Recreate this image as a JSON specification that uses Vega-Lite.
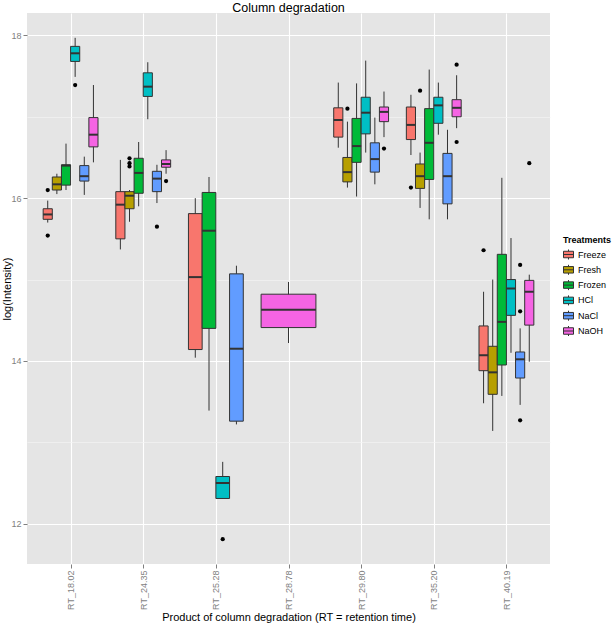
{
  "$schema": "https://vega.github.io/schema/vega-lite/v6.json",
  "autosize": {"type": "none"},
  "padding": {"left": 27, "top": 13, "right": 65, "bottom": 59},
  "width": 523,
  "height": 551,
  "background": "white",
  "config": {
    "font": "Liberation Sans",
    "view": {"fill": "#E5E5E5", "stroke": null}
  },
  "title": {"text": "Column degradation", "fontSize": 12.5, "fontWeight": "normal", "color": "black", "anchor": "middle", "offset": -1, "font": "Liberation Sans"},
  "data": {"values": [
    {"rt": "RT_18.02", "t": "Freeze", "lo": 15.70, "q1": 15.74, "med": 15.80, "q3": 15.87, "hi": 15.97, "out": [15.54, 16.10]},
    {"rt": "RT_18.02", "t": "Fresh", "lo": 16.05, "q1": 16.10, "med": 16.17, "q3": 16.26, "hi": 16.30, "out": []},
    {"rt": "RT_18.02", "t": "Frozen", "lo": 16.10, "q1": 16.16, "med": 16.40, "q3": 16.41, "hi": 16.67, "out": []},
    {"rt": "RT_18.02", "t": "HCl", "lo": 17.49, "q1": 17.68, "med": 17.78, "q3": 17.865, "hi": 17.97, "out": [17.39]},
    {"rt": "RT_18.02", "t": "NaCl", "lo": 16.04, "q1": 16.21, "med": 16.27, "q3": 16.40, "hi": 16.51, "out": []},
    {"rt": "RT_18.02", "t": "NaOH", "lo": 16.44, "q1": 16.63, "med": 16.78, "q3": 16.99, "hi": 17.39, "out": []},
    {"rt": "RT_24.35", "t": "Freeze", "lo": 15.37, "q1": 15.50, "med": 15.92, "q3": 16.08, "hi": 16.47, "out": []},
    {"rt": "RT_24.35", "t": "Fresh", "lo": 15.71, "q1": 15.87, "med": 16.03, "q3": 16.08, "hi": 16.10, "out": [16.49, 16.43, 16.39]},
    {"rt": "RT_24.35", "t": "Frozen", "lo": 15.90, "q1": 16.06, "med": 16.31, "q3": 16.49, "hi": 16.69, "out": []},
    {"rt": "RT_24.35", "t": "HCl", "lo": 16.97, "q1": 17.25, "med": 17.37, "q3": 17.54, "hi": 17.67, "out": []},
    {"rt": "RT_24.35", "t": "NaCl", "lo": 15.94, "q1": 16.08, "med": 16.24, "q3": 16.33, "hi": 16.41, "out": [15.65]},
    {"rt": "RT_24.35", "t": "NaOH", "lo": 16.30, "q1": 16.38, "med": 16.42, "q3": 16.47, "hi": 16.59, "out": [16.21]},
    {"rt": "RT_25.28", "t": "Freeze", "lo": 14.04, "q1": 14.14, "med": 15.03, "q3": 15.81, "hi": 16.00, "out": []},
    {"rt": "RT_25.28", "t": "Frozen", "lo": 13.39, "q1": 14.40, "med": 15.60, "q3": 16.07, "hi": 16.26, "out": []},
    {"rt": "RT_25.28", "t": "HCl", "lo": 12.31, "q1": 12.31, "med": 12.50, "q3": 12.58, "hi": 12.76, "out": [11.81]},
    {"rt": "RT_25.28", "t": "NaCl", "lo": 13.22, "q1": 13.26, "med": 14.15, "q3": 15.07, "hi": 15.17, "out": []},
    {"rt": "RT_28.78", "t": "NaOH", "lo": 14.22, "q1": 14.41, "med": 14.63, "q3": 14.82, "hi": 14.97, "out": []},
    {"rt": "RT_29.80", "t": "Freeze", "lo": 16.62, "q1": 16.75, "med": 16.96, "q3": 17.11, "hi": 17.42, "out": []},
    {"rt": "RT_29.80", "t": "Fresh", "lo": 16.13, "q1": 16.20, "med": 16.32, "q3": 16.50, "hi": 16.94, "out": [17.10]},
    {"rt": "RT_29.80", "t": "Frozen", "lo": 16.02, "q1": 16.44, "med": 16.64, "q3": 16.98, "hi": 17.41, "out": []},
    {"rt": "RT_29.80", "t": "HCl", "lo": 16.56, "q1": 16.79, "med": 17.05, "q3": 17.24, "hi": 17.69, "out": []},
    {"rt": "RT_29.80", "t": "NaCl", "lo": 16.17, "q1": 16.32, "med": 16.48, "q3": 16.68, "hi": 16.99, "out": []},
    {"rt": "RT_29.80", "t": "NaOH", "lo": 16.75, "q1": 16.94, "med": 17.06, "q3": 17.12, "hi": 17.31, "out": [16.61]},
    {"rt": "RT_35.20", "t": "Freeze", "lo": 16.53, "q1": 16.72, "med": 16.90, "q3": 17.12, "hi": 17.27, "out": [16.13]},
    {"rt": "RT_35.20", "t": "Fresh", "lo": 15.88, "q1": 16.12, "med": 16.27, "q3": 16.42, "hi": 16.56, "out": [17.32]},
    {"rt": "RT_35.20", "t": "Frozen", "lo": 15.74, "q1": 16.23, "med": 16.68, "q3": 17.10, "hi": 17.58, "out": []},
    {"rt": "RT_35.20", "t": "HCl", "lo": 16.78, "q1": 16.92, "med": 17.14, "q3": 17.24, "hi": 17.42, "out": []},
    {"rt": "RT_35.20", "t": "NaCl", "lo": 15.74, "q1": 15.93, "med": 16.27, "q3": 16.55, "hi": 16.84, "out": []},
    {"rt": "RT_35.20", "t": "NaOH", "lo": 16.86, "q1": 17.00, "med": 17.11, "q3": 17.21, "hi": 17.51, "out": [17.64, 16.69]},
    {"rt": "RT_40.19", "t": "Freeze", "lo": 13.48, "q1": 13.88, "med": 14.07, "q3": 14.43, "hi": 14.85, "out": [15.36]},
    {"rt": "RT_40.19", "t": "Fresh", "lo": 13.14, "q1": 13.59, "med": 13.86, "q3": 14.18, "hi": 15.00, "out": []},
    {"rt": "RT_40.19", "t": "Frozen", "lo": 13.57, "q1": 13.95, "med": 14.48, "q3": 15.31, "hi": 16.25, "out": []},
    {"rt": "RT_40.19", "t": "HCl", "lo": 14.10, "q1": 14.56, "med": 14.89, "q3": 15.00, "hi": 15.51, "out": []},
    {"rt": "RT_40.19", "t": "NaCl", "lo": 13.46, "q1": 13.79, "med": 14.02, "q3": 14.11, "hi": 14.40, "out": [15.18, 14.61, 13.27]},
    {"rt": "RT_40.19", "t": "NaOH", "lo": 13.99, "q1": 14.44, "med": 14.85, "q3": 14.99, "hi": 15.06, "out": [16.43]}
  ]},
  "transform": [
    {"window": [{"op": "dense_rank", "as": "ci"}], "sort": [{"field": "rt", "order": "ascending"}]},
    {"window": [{"op": "row_number", "as": "ti"}], "groupby": ["rt"], "sort": [{"field": "t", "order": "ascending"}]},
    {"joinaggregate": [{"op": "count", "as": "n"}], "groupby": ["rt"]},
    {"calculate": "0.755 / datum.n", "as": "w"},
    {"calculate": "datum.ci - 0.3775 + (datum.ti - 1) * datum.w", "as": "x0"},
    {"calculate": "datum.x0 + datum.w", "as": "x1"},
    {"calculate": "datum.x0 + datum.w / 2", "as": "xc"}
  ],
  "encoding": {
    "x": {
      "field": "xc", "type": "quantitative",
      "scale": {"domain": [0.4, 7.6], "nice": false, "zero": false},
      "axis": {
        "values": [1, 2, 3, 4, 5, 6, 7],
        "labelExpr": "['RT_18.02','RT_24.35','RT_25.28','RT_28.78','RT_29.80','RT_35.20','RT_40.19'][datum.value - 1]",
        "labelAngle": 270, "labelFontSize": 9, "labelColor": "#7F7F7F", "labelPadding": 2,
        "tickColor": "#7F7F7F", "tickSize": 4, "domain": false,
        "grid": true, "gridColor": "white", "gridWidth": 1.1,
        "title": "Product of column degradation (RT = retention time)",
        "titleFontSize": 11, "titleFontWeight": "normal", "titleColor": "black", "titlePadding": 2
      }
    },
    "y": {
      "field": "med", "type": "quantitative",
      "scale": {"domain": [11.505, 18.275], "nice": false, "zero": false},
      "axis": {
        "values": [12, 13, 14, 15, 16, 17, 18],
        "labelExpr": "datum.value % 2 === 0 ? datum.label : ''",
        "labelFontSize": 9, "labelColor": "#7F7F7F", "labelPadding": 2,
        "tickColor": "#7F7F7F", "tickSize": 4,
        "tickOpacity": {"condition": {"test": "datum.value % 2 === 1", "value": 0}, "value": 1},
        "domain": false, "grid": true,
        "gridColor": {"condition": {"test": "datum.value % 2 === 1", "value": "#F4F4F4"}, "value": "white"},
        "gridWidth": {"condition": {"test": "datum.value % 2 === 1", "value": 0.7}, "value": 1.1},
        "title": "log(Intensity)", "titleFontSize": 11, "titleFontWeight": "normal", "titleColor": "black",
        "titleX": -20, "titleBaseline": "middle"
      }
    }
  },
  "layer": [
    {
      "mark": {"type": "rule", "color": "#333333", "strokeWidth": 1},
      "encoding": {"y": {"field": "lo", "type": "quantitative"}, "y2": {"field": "hi"}}
    },
    {
      "mark": {"type": "rect", "stroke": "#333333", "strokeWidth": 1},
      "encoding": {
        "x": {"field": "x0", "type": "quantitative"},
        "x2": {"field": "x1"},
        "y": {"field": "q1", "type": "quantitative"},
        "y2": {"field": "q3"},
        "fill": {
          "field": "t", "type": "nominal",
          "scale": {"domain": ["Freeze", "Fresh", "Frozen", "HCl", "NaCl", "NaOH"], "range": ["#F8766D", "#B79F00", "#00BA38", "#00BFC4", "#619CFF", "#F564E3"]},
          "legend": {
            "title": "Treatments", "orient": "none", "legendX": 536, "legendY": 223,
            "titleFontSize": 9, "titleFontWeight": "bold", "titleColor": "black", "titlePadding": 4,
            "labelFontSize": 9, "labelColor": "black", "labelOffset": 4,
            "symbolType": "M-1,-0.65H1V0.65H-1Z M-1,0H1 M0,-1V-0.65 M0,0.65V1",
            "symbolSize": 100, "symbolStrokeColor": "#333333", "symbolStrokeWidth": 1, "symbolOpacity": 1,
            "rowPadding": 0.3
          }
        }
      }
    },
    {
      "mark": {"type": "rule", "color": "#333333", "strokeWidth": 2},
      "encoding": {
        "x": {"field": "x0", "type": "quantitative"},
        "x2": {"field": "x1"},
        "y": {"field": "med", "type": "quantitative"}
      }
    },
    {
      "transform": [{"flatten": ["out"]}],
      "mark": {"type": "circle", "color": "black", "opacity": 1, "size": 18},
      "encoding": {"y": {"field": "out", "type": "quantitative"}}
    }
  ]
}
